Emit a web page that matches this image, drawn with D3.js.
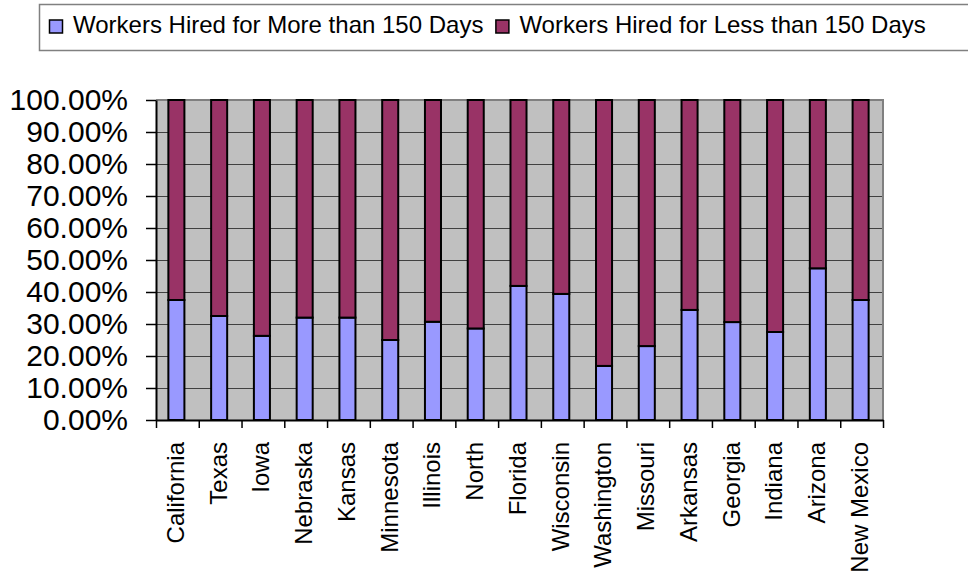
<!DOCTYPE html>
<html>
<head>
<meta charset="utf-8">
<script src="https://cdn.jsdelivr.net/npm/d3@7"></script>
<style>
  html, body { margin: 0; padding: 0; background: #ffffff; }
  svg { display: block; }
  text { font-family: "Liberation Sans", Arial, sans-serif; fill: #000; }
</style>
</head>
<body>
<svg id="chart" width="968" height="575"></svg>
<script>
// ---- data ----
const states = ["California","Texas","Iowa","Nebraska","Kansas","Minnesota","Illinois","North","Florida","Wisconsin","Washington","Missouri","Arkansas","Georgia","Indiana","Arizona","New Mexico"];
const moreThan150 = [37.5, 32.5, 26.3, 32.0, 32.0, 25.0, 30.7, 28.6, 41.9, 39.4, 16.9, 23.1, 34.4, 30.6, 27.5, 47.4, 37.5];
const lessThan150 = [62.5, 67.5, 73.7, 68.0, 68.0, 75.0, 69.3, 71.4, 58.1, 60.6, 83.1, 76.9, 65.6, 69.4, 72.5, 52.6, 62.5];
const seriesNames = ["Workers Hired for More than 150 Days", "Workers Hired for Less than 150 Days"];
const seriesColors = ["#9999FF", "#993366"];
const yTicks = [0, 0.1, 0.2, 0.3, 0.4, 0.5, 0.6, 0.7, 0.8, 0.9, 1.0];

// ---- layout ----
const svg = d3.select("#chart");
const X0 = 156, X1 = 883, Y0 = 100, Y1 = 420;

const rows = states.map((s, i) => ({ state: s, more: moreThan150[i] / 100, less: lessThan150[i] / 100 }));
const stack = d3.stack().keys(["more", "less"]);
const stacked = stack(rows);

const x = d3.scaleBand().domain(states).range([X0, X1]).paddingInner(0).paddingOuter(0);
const xEdge = d3.scaleLinear().domain([0, states.length]).range([X0, X1]);
const y = d3.scaleLinear().domain([0, 1]).range([Y1, Y0]);

// plot background
svg.append("rect").attr("x", X0).attr("y", Y0).attr("width", X1 - X0).attr("height", Y1 - Y0).attr("fill", "#C0C0C0");

// gridlines
svg.append("g").selectAll("line").data(yTicks.slice(1)).join("line")
  .attr("x1", X0).attr("x2", X1)
  .attr("y1", d => Math.round(y(d)) + 0.5).attr("y2", d => Math.round(y(d)) + 0.5)
  .attr("stroke", "#404040").attr("stroke-width", 1);

// top and right border
svg.append("path")
  .attr("d", `M${X0},${Y0} L${X1},${Y0} L${X1},${Y1}`)
  .attr("fill", "none").attr("stroke", "#808080").attr("stroke-width", 2);

// bars
const barW = x.bandwidth() * 0.375;
svg.append("g").selectAll("g").data(stacked).join("g")
  .attr("fill", (d, i) => seriesColors[i])
  .selectAll("rect").data(d => d).join("rect")
  .attr("x", d => x(d.data.state) + x.bandwidth() / 2 - barW / 2 - 1)
  .attr("y", d => y(d[1]))
  .attr("width", barW)
  .attr("height", d => y(d[0]) - y(d[1]))
  .attr("stroke", "#000").attr("stroke-width", 2);

// y axis
const yAxis = d3.axisLeft(y).tickValues(yTicks).tickFormat(d3.format(".2%")).tickSizeInner(10).tickSizeOuter(0).tickPadding(18);
const gy = svg.append("g").attr("transform", `translate(${X0},0)`).call(yAxis);
gy.select(".domain").attr("stroke", "#000").attr("stroke-width", 2);
gy.selectAll(".tick line").attr("stroke", "#000").attr("stroke-width", 1.5);
gy.selectAll(".tick text").style("font-size", "30px").attr("font-family", "Liberation Sans, Arial, sans-serif").attr("fill", "#000");

// x axis: boundary ticks
const xAxisTicks = d3.axisBottom(xEdge).tickValues(d3.range(states.length + 1)).tickFormat("").tickSizeInner(8).tickSizeOuter(0);
const gx = svg.append("g").attr("transform", `translate(0,${Y1})`).call(xAxisTicks);
gx.select(".domain").attr("stroke", "#000").attr("stroke-width", 2);
gx.selectAll(".tick line").attr("stroke", "#000").attr("stroke-width", 1.5);

// x labels
const xAxisLabels = d3.axisBottom(x).tickSize(0).tickPadding(0);
const gl = svg.append("g").attr("transform", `translate(0,${Y1})`).call(xAxisLabels);
gl.select(".domain").remove();
gl.selectAll(".tick text")
  .style("font-size", "24px").attr("font-family", "Liberation Sans, Arial, sans-serif").attr("fill", "#000")
  .attr("text-anchor", "end")
  .attr("transform", "translate(-2,22) rotate(-90)")
  .attr("x", 0).attr("y", 0).attr("dy", "0.35em");

// legend
const lg = svg.append("g");
lg.append("rect").attr("x", 39.5).attr("y", 4.5).attr("width", 1000).attr("height", 46)
  .attr("fill", "#fff").attr("stroke", "#808080").attr("stroke-width", 1.5);
let lx = 49;
seriesNames.forEach((name, i) => {
  lg.append("rect").attr("x", lx + 0.5).attr("y", 20).attr("width", 13).attr("height", 13)
    .attr("fill", seriesColors[i]).attr("stroke", "#000").attr("stroke-width", 1.5);
  const t = lg.append("text").attr("x", lx + 24).attr("y", 33).style("font-size", "24px").text(name);
  lx = lx + 24 + t.node().getComputedTextLength() + 12;
});
</script>
</body>
</html>
